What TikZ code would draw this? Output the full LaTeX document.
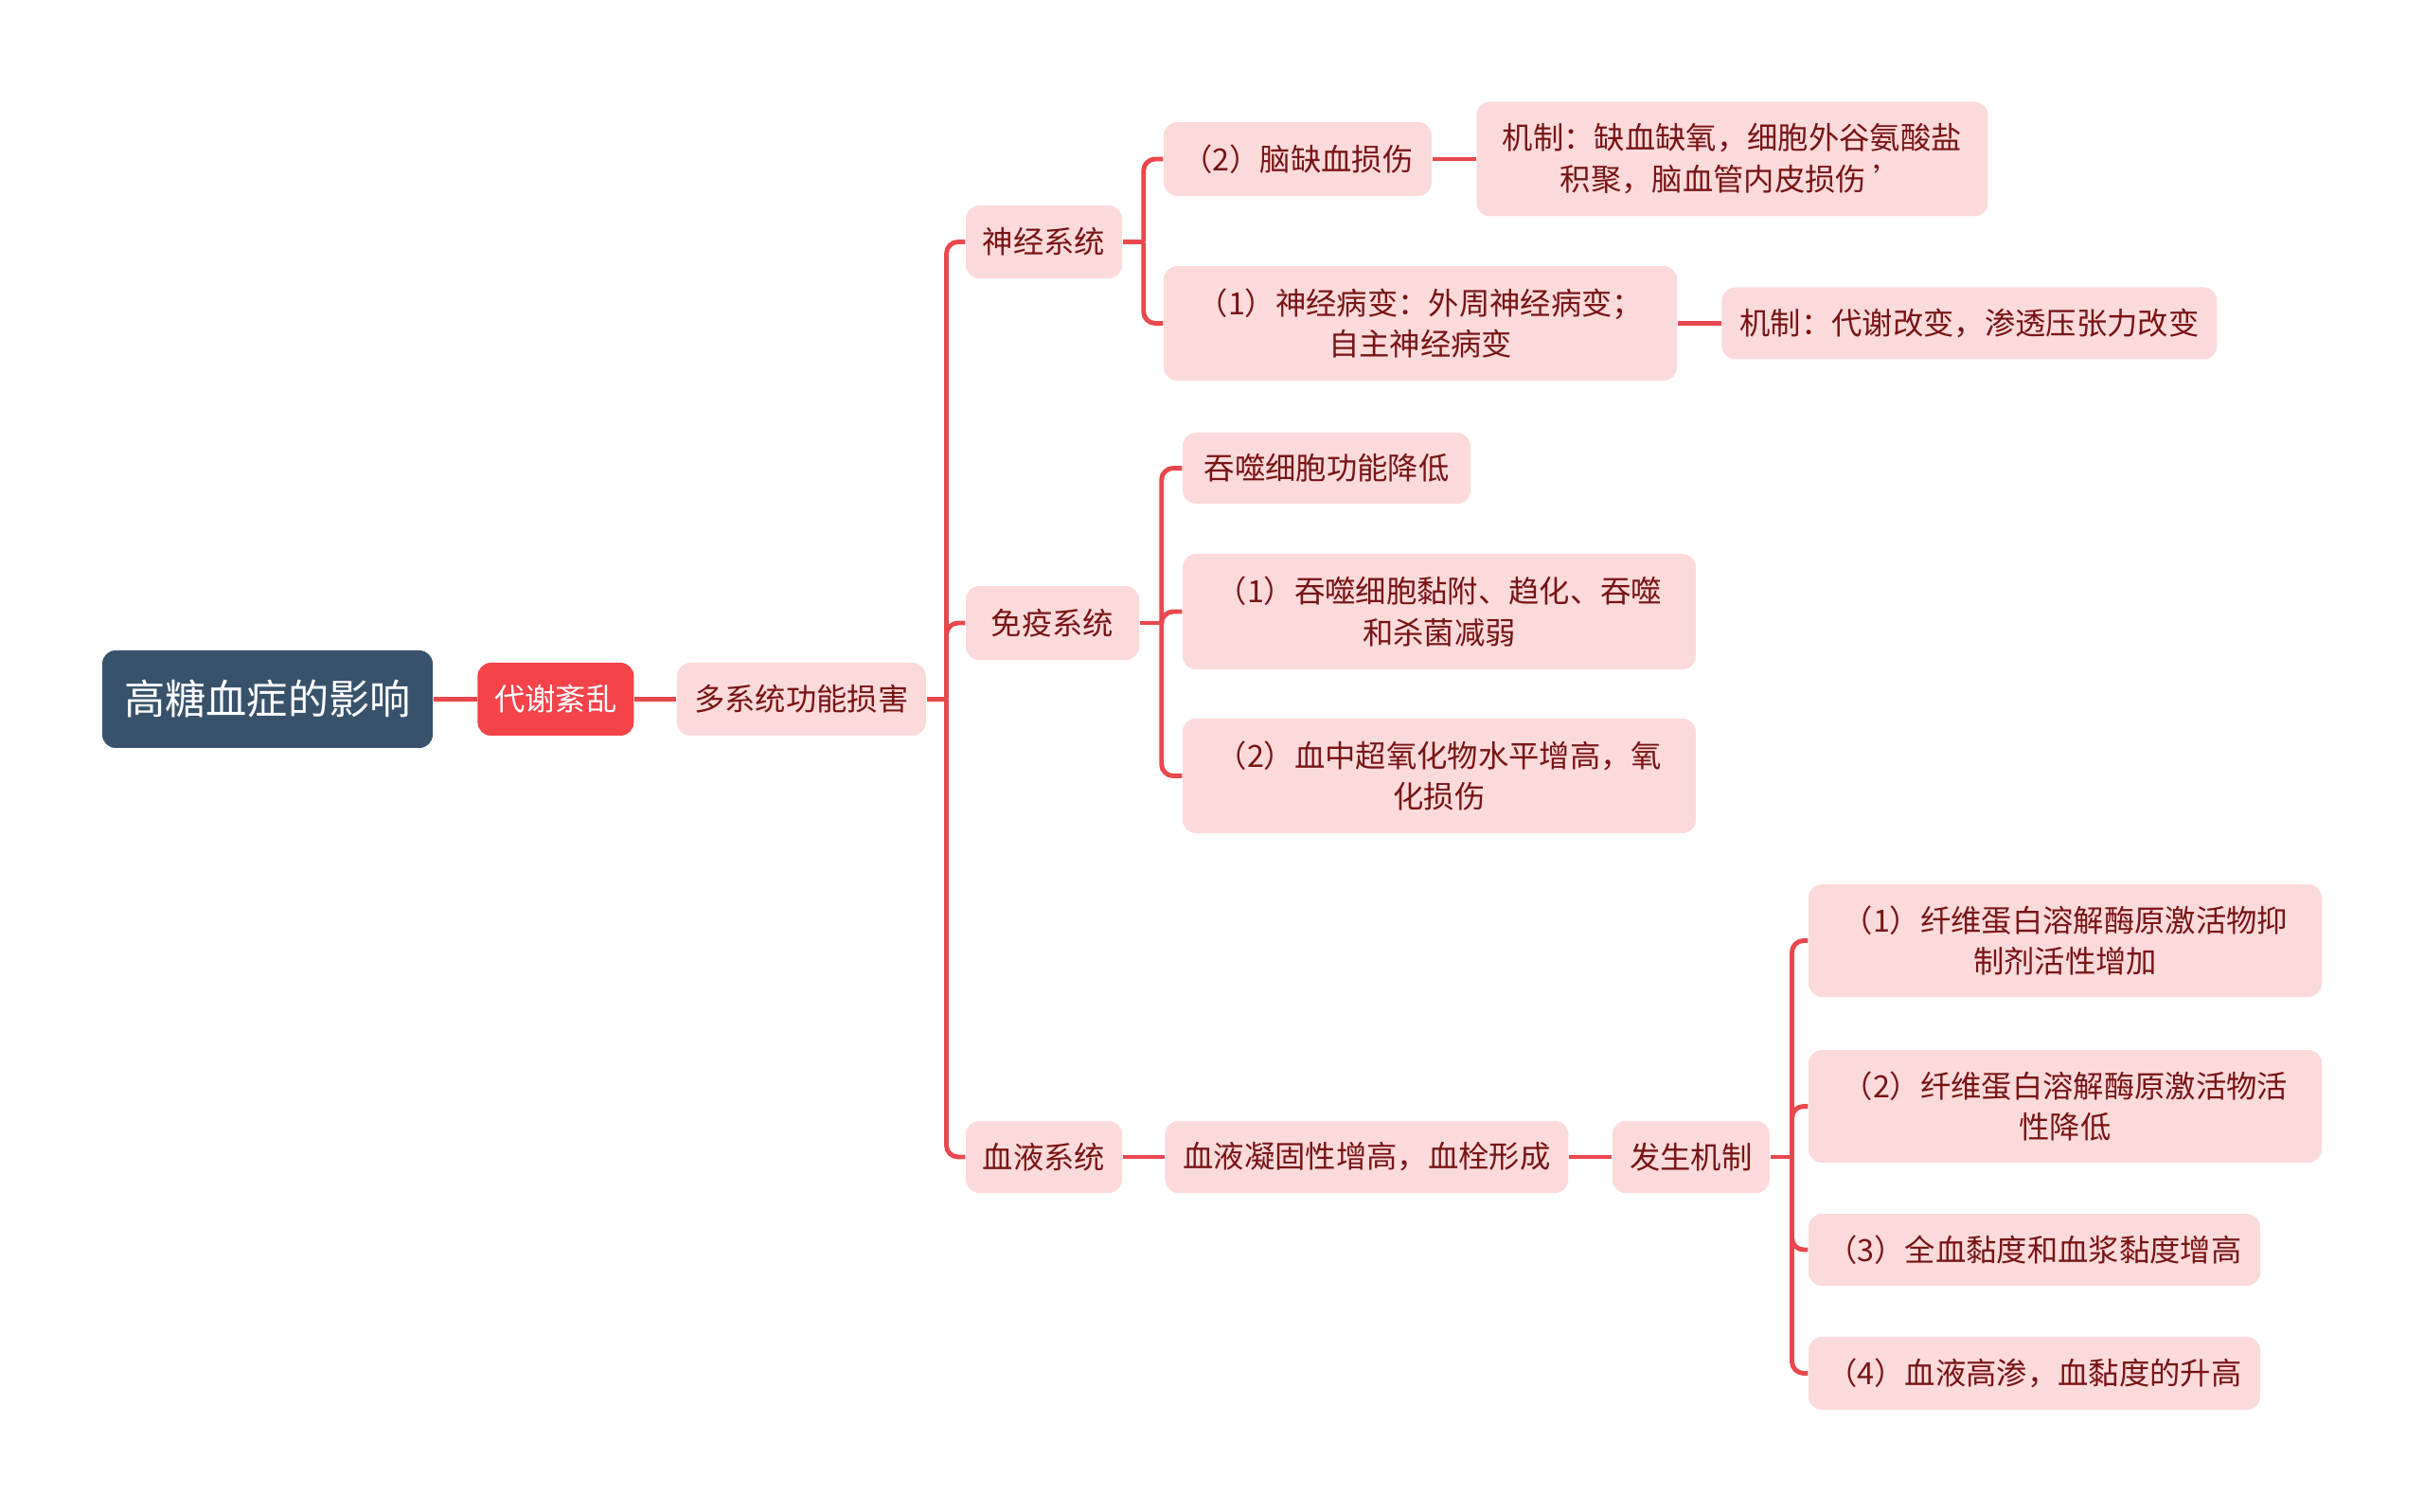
\documentclass[tikz,border=0pt]{standalone}
\usepackage{fontspec}
\setmainfont{Noto Sans CJK SC}
\definecolor{slate}{RGB}{57,82,107}
\definecolor{alert}{RGB}{245,67,74}
\definecolor{blush}{RGB}{251,218,219}
\definecolor{wine}{RGB}{120,20,22}
\definecolor{wire}{RGB}{232,72,78}
\usetikzlibrary{positioning}

\begin{document}
\begin{tikzpicture}[
      rootbox/.style={fill=slate, text=white, rounded corners=4pt, inner sep=0pt,
        font=\fontsize{12.3}{15}\selectfont, minimum width=3.49cm, minimum height=1.03cm},
      keybox/.style={fill=alert, text=white, rounded corners=4pt, inner sep=0pt,
        font=\fontsize{9.2}{12.5}\selectfont, minimum height=0.77cm},
      topicbox/.style={fill=blush, text=wine, rounded corners=4pt, inner sep=0pt,
        align=center, font=\fontsize{9.2}{12.5}\selectfont, minimum height=0.77cm},
      link/.style={draw=wire, line width=1.4pt, rounded corners=3.5pt},
    ]
    \useasboundingbox (0,0) rectangle (25.6,-15.97);

    % main chain
    \node[rootbox] (root) at (2.825,-7.385) {高糖血症的影响};
    \node[keybox, minimum width=1.65cm, right=0.46cm of root] (disorder) {代谢紊乱};
    \node[topicbox, minimum width=2.63cm, right=0.44cm of disorder] (multi) {多系统功能损害};

    % systems
    \node[topicbox, minimum width=1.65cm] (nerve) at (11.025,-2.555) {神经系统};
    \node[topicbox, minimum width=1.83cm, minimum height=0.78cm] (immune) at (11.115,-6.58) {免疫系统};
    \node[topicbox, minimum width=1.65cm, minimum height=0.76cm] (blood) at (11.025,-12.22) {血液系统};

    % nervous system
    \node[topicbox, minimum width=2.83cm, minimum height=0.78cm] (ischemia) at (13.705,-1.68) {（2）脑缺血损伤};
    \node[topicbox, minimum width=5.40cm, minimum height=1.21cm, right=0.46cm of ischemia]
      (mech1) {机制：缺血缺氧，细胞外谷氨酸盐\\积聚，脑血管内皮损伤 ’};
    \node[topicbox, minimum width=5.42cm, minimum height=1.21cm] (neuropathy) at (15.0,-3.415)
      {（1）神经病变：外周神经病变；\\自主神经病变};
    \node[topicbox, minimum width=5.23cm, minimum height=0.76cm, right=0.46cm of neuropathy]
      (mech2) {机制：代谢改变，渗透压张力改变};

    % immune system
    \node[topicbox, minimum width=3.04cm, minimum height=0.75cm] (phago) at (14.01,-4.945) {吞噬细胞功能降低};
    \node[topicbox, minimum width=5.42cm, minimum height=1.22cm] (phago1) at (15.2,-6.46)
      {（1）吞噬细胞黏附、趋化、吞噬\\和杀菌减弱};
    \node[topicbox, minimum width=5.42cm, minimum height=1.21cm] (superox) at (15.2,-8.195)
      {（2）血中超氧化物水平增高，氧\\化损伤};

    % blood system
    \node[topicbox, minimum width=4.26cm, minimum height=0.76cm, right=0.44cm of blood] (coag) {血液凝固性增高，血栓形成};
    \node[topicbox, minimum width=1.66cm, minimum height=0.76cm, right=0.45cm of coag] (mech) {发生机制};
    \node[topicbox, minimum width=5.42cm, minimum height=1.19cm] (fib1) at (21.81,-9.935)
      {（1）纤维蛋白溶解酶原激活物抑\\制剂活性增加};
    \node[topicbox, minimum width=5.42cm, minimum height=1.19cm] (fib2) at (21.81,-11.685)
      {（2）纤维蛋白溶解酶原激活物活\\性降低};
    \node[topicbox, minimum width=4.77cm, minimum height=0.76cm] (visc) at (21.485,-13.2) {（3）全血黏度和血浆黏度增高};
    \node[topicbox, minimum width=4.77cm, minimum height=0.77cm] (hyper) at (21.485,-14.505) {（4）血液高渗，血黏度的升高};

    % connectors
    \draw[link] (root) -- (disorder);
    \draw[link] (disorder) -- (multi);
    \draw[link] (multi.east) -- ++(0.21,0) coordinate (fork0);
    \draw[link] (fork0) |- (nerve.west);
    \draw[link] (fork0) |- (immune.west);
    \draw[link] (fork0) |- (blood.west);

    \draw[link] (nerve.east) -- ++(0.22,0) coordinate (fork1);
    \draw[link] (fork1) |- (ischemia.west);
    \draw[link] (fork1) |- (neuropathy.west);
    \draw[link] (ischemia) -- (mech1);
    \draw[link] (neuropathy) -- (mech2);

    \draw[link] (immune.east) -- ++(0.23,0) coordinate (fork2);
    \draw[link] (fork2) |- (phago.west);
    \draw[link] (fork2) |- (phago1.west);
    \draw[link] (fork2) |- (superox.west);

    \draw[link] (blood) -- (coag);
    \draw[link] (coag) -- (mech);
    \draw[link] (mech.east) -- ++(0.23,0) coordinate (fork3);
    \draw[link] (fork3) |- (fib1.west);
    \draw[link] (fork3) |- (fib2.west);
    \draw[link] (fork3) |- (visc.west);
    \draw[link] (fork3) |- (hyper.west);
  \end{tikzpicture}
\end{document}
